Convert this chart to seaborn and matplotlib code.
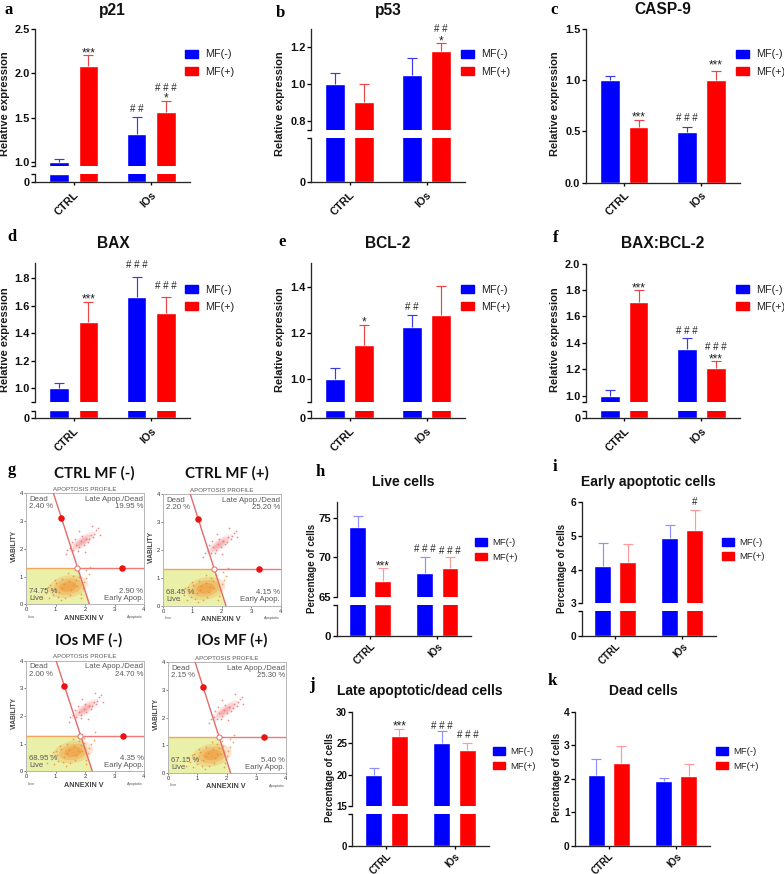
import matplotlib
matplotlib.use("Agg")
import matplotlib.pyplot as plt
from matplotlib.patches import Patch, Ellipse, Polygon
import pandas as pd
import seaborn as sns

# ---------- data ----------
groups = ["CTRL", "IOs"]
hues = ["MF(-)", "MF(+)"]

p21_mean = [1.00, 2.08, 1.32, 1.56]
p21_top = [1.04, 2.20, 1.505, 1.69]
p53_mean = [1.00, 0.90, 1.05, 1.18]
p53_top = [1.057, 1.00, 1.143, 1.22]
casp9_mean = [1.00, 0.54, 0.49, 1.00]
casp9_top = [1.035, 0.615, 0.54, 1.085]
bax_mean = [1.00, 1.48, 1.665, 1.55]
bax_top = [1.04, 1.63, 1.81, 1.665]
bcl2_mean = [1.00, 1.147, 1.227, 1.278]
bcl2_top = [1.05, 1.235, 1.28, 1.405]
ratio_mean = [1.00, 1.71, 1.35, 1.21]
ratio_top = [1.04, 1.80, 1.435, 1.26]
live_mean = [73.9, 67.0, 68.0, 68.7]
live_top = [75.2, 68.7, 70.1, 70.0]
early_mean = [4.10, 4.22, 4.92, 5.18]
early_top = [4.78, 4.77, 5.32, 5.76]
late_mean = [19.9, 26.2, 25.0, 24.0]
late_top = [21.0, 27.3, 27.0, 25.0]
dead_mean = [2.13, 2.48, 1.93, 2.10]
dead_top = [2.60, 2.97, 2.02, 2.43]

flow_titles = ["CTRL MF (-)", "CTRL MF (+)", "IOs MF (-)", "IOs MF (+)"]
flow_dead = ["2.40 %", "2.20 %", "2.00 %", "2.15 %"]
flow_late = ["19.95 %", "25.20 %", "24.70 %", "25.30 %"]
flow_early = ["2.90 %", "4.15 %", "4.35 %", "5.40 %"]
flow_live = ["74.75 %", "68.45 %", "68.95 %", "67.15 %"]
gate_h = [1.30, 1.30, 1.29, 1.285]
gate_top_x = [0.93, 0.93, 1.02, 0.92]
gate_bot_x = [2.15, 2.14, 2.25, 2.13]
gate_cross_x = [1.74, 1.75, 1.83, 1.72]
dot_a_x = [1.20, 1.19, 1.30, 1.19]
dot_b_x = [3.25, 3.25, 3.30, 3.25]
live_cx = [1.43, 1.45, 1.60, 1.50]
live_cy = [0.64, 0.62, 0.70, 0.65]
dead_cx = [1.90, 1.92, 2.00, 1.95]
dead_cy = [2.25, 2.20, 2.25, 2.25]
# speckle offsets from each cloud's centre, hand-placed
speck_live_dx = [-0.75, -0.6, -0.5, -0.42, -0.3, -0.22, -0.1, 0.02, 0.1, 0.18, 0.3, 0.38, 0.5, 0.62, -0.55, -0.35, -0.15, 0.05, 0.25, 0.45, -0.65, -0.2, 0.15, 0.55, 0.7,
                 -0.9, -0.8, -0.45, -0.25, 0.0, 0.35, 0.6, 0.75, -0.7, 0.42]
speck_live_dy = [-0.25, 0.05, -0.32, 0.12, -0.18, 0.28, -0.4, 0.2, -0.12, 0.38, 0.02, 0.33, -0.05, 0.3, -0.12, -0.38, 0.08, -0.3, 0.25, -0.28, -0.42, -0.05, 0.05, 0.15, 0.45,
                 -0.4, -0.1, 0.22, -0.5, 0.48, 0.5, 0.58, 0.72, 0.0, -0.42]
speck_dead_dx = [-0.5, -0.4, -0.3, -0.22, -0.12, -0.05, 0.05, 0.12, 0.2, 0.3, 0.38, 0.48, 0.55, -0.35, 0.0, 0.25, -0.15, 0.42,
                 -0.55, -0.25, 0.1, 0.6, -0.1, 0.33]
speck_dead_dy = [-0.3, -0.22, -0.3, -0.1, -0.2, 0.02, -0.1, 0.12, 0.0, 0.25, 0.18, 0.42, 0.5, -0.02, 0.2, 0.1, -0.32, 0.3,
                 -0.45, 0.12, -0.35, 0.25, 0.38, 0.58]

# ---------- layout helpers ----------
W, H = 784, 874
BLUE, RED = "#0000ff", "#ff0000"
BAR_WIDTH, BAR_GAP = 0.75, 0.33
sns.set_theme(style="ticks")
plt.rcParams["font.family"] = ["Liberation Sans", "DejaVu Sans"]
plt.rcParams["axes.linewidth"] = 0.95
fig = plt.figure(figsize=(W / 100, H / 100), dpi=100, facecolor="white")


def rect(l, r, t, b):
    return [l / W, 1 - b / H, (r - l) / W, (b - t) / H]


def ftext(x, y, s, **kw):
    kw.setdefault("ha", "center")
    kw.setdefault("va", "center")
    fig.text(x / W, 1 - y / H, s, **kw)


def frame(mean):
    return pd.DataFrame({
        "group": [groups[0], groups[0], groups[1], groups[1]],
        "MF": hues * 2,
        "value": mean,
    })


def bars(ax, mean):
    sns.barplot(data=frame(mean), x="group", y="value", hue="MF", hue_order=hues,
                palette=[BLUE, RED], width=BAR_WIDTH, gap=BAR_GAP, saturation=1,
                errorbar=None, legend=False, ax=ax)
    ax.set_xlim(-0.5, 1.5)
    ax.set_xlabel("")
    ax.set_ylabel("")
    sns.despine(ax=ax)


def whiskers(ax, mean, top, pale):
    slot = BAR_WIDTH / 2
    cols = ["#8f8fff", "#ff9a9a"] if pale else ["#3a3ae6", "#ee4444"]
    for i, (m, t) in enumerate(zip(mean, top)):
        x = i // 2 + (i % 2 - 0.5) * slot
        _, caps, _ = ax.errorbar([x], [m], yerr=[[0], [t - m]], color=cols[i % 2], lw=0.85,
                                 capsize=3.3, capthick=0.85, zorder=1.5)
        caps[0].set_visible(False)


def marks(ax, top, notes):
    slot = BAR_WIDTH / 2
    for i, text, dy in notes:
        x = i // 2 + (i % 2 - 0.5) * slot
        star = "*" in text
        ax.annotate(text, xy=(x, top[i]), xytext=(0, (dy - (1.4 if star else 0)) * 0.72),
                    textcoords="offset points", ha="center", va="baseline",
                    fontsize=8.5 if star else 7, color="#222222")


def panel(mean, top, px, ylim, ticks, labels, notes, title, tpos, letter, lpos,
          ylabel, ypos, legpos, brk=None, small=False, tick_fs=7.9):
    l, r, t, b = px
    xt_fs = 7.8 if not small else 7.0
    yl_fs = 8.0 if not small else 7.0
    leg_fs = 7.8 if not small else 6.8
    if brk:
        lo_top, up_bot = brk
        up = fig.add_axes(rect(l, r, t, up_bot))
        lo = fig.add_axes(rect(l, r, lo_top, b))
        bars(up, mean)
        bars(lo, mean)
        up.set_ylim(*ylim)
        lo.set_ylim(0, ylim[0])
        up.spines["bottom"].set_visible(False)
        up.tick_params(axis="x", bottom=False, labelbottom=False)
        lo.set_yticks([0, ylim[0]], ["0", ""])
        main = up
    else:
        up = lo = main = fig.add_axes(rect(l, r, t, b))
        bars(up, mean)
        up.set_ylim(*ylim)
    up.set_yticks(ticks, labels)
    for ax in {up, lo}:
        ax.tick_params(axis="y", length=2.6, width=0.95, pad=1.2, labelsize=tick_fs, color="black")
        for lab in ax.get_yticklabels():
            lab.set_fontweight("bold")
            lab.set_color("#111111")
    lo.tick_params(axis="x", length=2.4, width=0.95, pad=1.5 if small else 3, color="black")
    lo.set_xticks([0, 1], groups, rotation=45, ha="right", rotation_mode="anchor",
                  fontsize=xt_fs, fontweight="bold", color="#111111")
    whiskers(main, mean, top, small)
    marks(main, top, notes)
    ftext(tpos[0], tpos[1], title, fontsize=10 if small else 11.2, fontweight="bold", color="#111111")
    ftext(lpos[0], lpos[1], letter, fontsize=12, fontweight="bold", family="Liberation Serif", color="black")
    ftext(ypos[0], ypos[1], ylabel, rotation=90, fontsize=yl_fs, fontweight="bold", color="#1a1a1a")
    em = leg_fs / 0.72
    pw = 11.7 if small else 13
    gap = 5.7 if small else 7
    row = 14 if small else 17.5
    fig.legend(handles=[Patch(color=BLUE), Patch(color=RED)], labels=hues, loc="center left",
               bbox_to_anchor=(legpos[0] / W, 1 - legpos[1] / H), frameon=False, fontsize=leg_fs,
               borderpad=0, borderaxespad=0, handlelength=pw / em, handleheight=8.2 / em,
               handletextpad=gap / em, labelspacing=(row - em * 0.95) / em, labelcolor="#222222")


RE = "Relative expression"
PC = "Percentage of cells"

panel(p21_mean, p21_top, (35, 190, 28.7, 182), (0.958, 2.5), [0.958, 1.0, 1.5, 2.0, 2.5],
      ["", "1.0", "1.5", "2.0", "2.5"],
      [(1, "***", 0.4), (2, "# #", 4.8), (3, "*", 0.4), (3, "# # #", 10)],
      "p21", (112, 10), "a", (9, 10), RE, (5, 104), (185.3, 63), brk=(174.3, 166))
panel(p53_mean, p53_top, (311, 465, 28.7, 182), (0.751, 1.299), [0.751, 0.8, 1.0, 1.2],
      ["", "0.8", "1.0", "1.2"],
      [(3, "*", 0.6), (3, "# #", 11)],
      "p53", (388, 10), "b", (280, 13), RE, (280, 104), (460.7, 63), brk=(138.3, 130))
panel(casp9_mean, casp9_top, (585.7, 740, 28.7, 182.7), (0, 1.5), [0, 0.5, 1.0, 1.5],
      ["0.0", "0.5", "1.0", "1.5"],
      [(1, "***", 0.4), (2, "# # #", 6.5), (3, "***", 4.4)],
      "CASP-9", (663, 9), "c", (554, 10), RE, (555, 104), (736, 63))
panel(bax_mean, bax_top, (35, 190, 263.3, 418), (0.90, 1.909), [0.90, 1.0, 1.2, 1.4, 1.6, 1.8],
      ["", "1.0", "1.2", "1.4", "1.6", "1.8"],
      [(1, "***", 0.4), (2, "# # #", 8.8), (3, "# # #", 7.8)],
      "BAX", (113, 244), "d", (12, 237), RE, (5, 340), (185.3, 298.3), brk=(410.7, 402))
panel(bcl2_mean, bcl2_top, (311, 465, 263.3, 418), (0.901, 1.504), [0.901, 1.0, 1.2, 1.4],
      ["", "1.0", "1.2", "1.4"],
      [(1, "*", 1.0), (2, "# #", 4.5)],
      "BCL-2", (388, 244), "e", (282, 242), RE, (280, 340), (460.7, 298.3), brk=(410.7, 402))
panel(ratio_mean, ratio_top, (585.7, 740, 263.7, 418), (0.952, 2.0), [0.952, 1.0, 1.2, 1.4, 1.6, 1.8, 2.0],
      ["", "1.0", "1.2", "1.4", "1.6", "1.8", "2.0"],
      [(1, "***", 0.4), (2, "# # #", 4.2), (3, "***", 0.4), (3, "# # #", 11.5)],
      "BAX:BCL-2", (663, 244), "f", (556, 238), RE, (555, 340), (736, 298.3), brk=(410.7, 402))
panel(live_mean, live_top, (336.7, 471, 501.7, 635.7), (65, 77.06), [65, 70, 75], ["65", "70", "75"],
      [(1, "***", 0.2), (2, "# # #", 4.5), (3, "# # #", 3.2)],
      "Live cells", (403, 482), "h", (320, 472), PC, (312, 568), (475, 550), brk=(604.7, 597), small=True, tick_fs=8.2)
panel(early_mean, early_top, (581.7, 715.7, 502, 636), (3, 6), [3, 4, 5, 6], ["3", "4", "5", "6"],
      [(3, "#", 5.2)],
      "Early apoptotic cells", (648, 482), "i", (555, 467), PC, (562, 568), (722, 549.7), brk=(611, 603.3), small=True, tick_fs=7.4)
panel(late_mean, late_top, (352.3, 488.7, 711.7, 845.7), (15, 30), [15, 20, 25, 30], ["15", "20", "25", "30"],
      [(1, "***", 0.2), (2, "# # #", 2.0), (3, "# # #", 5.5)],
      "Late apoptotic/dead cells", (420, 691), "j", (312, 685), PC, (330, 777), (493, 759), brk=(814, 806.3), small=True, tick_fs=7.0)
panel(dead_mean, dead_top, (575, 710, 712, 845.7), (0, 4), [0, 1, 2, 3, 4], ["0", "1", "2", "3", "4"],
      [],
      "Dead cells", (643, 691), "k", (552, 681), PC, (557, 777), (716, 759), small=True, tick_fs=7.4)

# ---------- panel g: apoptosis profiles ----------
flow_px = [(26, 144, 493.3, 604.3), (163, 280.7, 494.3, 605.7), (26, 144, 660.7, 771.3), (168, 285.7, 662, 773)]
title_px = [(94, 473), (227, 473), (89, 640), (232, 640)]
ftext(12, 470, "g", fontsize=12, fontweight="bold", family="Liberation Serif", color="black")
GREY = "#5a5a5a"


def cloud(ax, cx, cy, w, h, ang, color, alphas):
    for scale, alpha in zip((1.0, 0.72, 0.45), alphas):
        ax.add_patch(Ellipse((cx, cy), w * scale, h * scale, angle=ang, color=color, alpha=alpha, lw=0, zorder=2))


for k in range(4):
    l, r, t, b = flow_px[k]
    ax = fig.add_axes(rect(l, r, t, b))
    ax.set_xlim(0, 4)
    ax.set_ylim(0, 4)
    h, tx, bx, cx = gate_h[k], gate_top_x[k], gate_bot_x[k], gate_cross_x[k]
    ax.add_patch(Polygon([(0, 0), (bx, 0), (cx, h), (0, h)], color="#ebf0a8", lw=0, zorder=1))
    cloud(ax, live_cx[k], live_cy[k], 1.35, 0.8, 12, "#f08a2a", (0.22, 0.3, 0.4))
    cloud(ax, dead_cx[k], dead_cy[k], 1.1, 0.36, 38, "#f07070", (0.15, 0.2, 0.3))
    sns.scatterplot(x=[live_cx[k] + d for d in speck_live_dx], y=[live_cy[k] + d for d in speck_live_dy],
                    color="#ee8a30", s=1.5, linewidth=0, alpha=0.8, ax=ax, zorder=3)
    sns.scatterplot(x=[dead_cx[k] + d for d in speck_dead_dx], y=[dead_cy[k] + d for d in speck_dead_dy],
                    color="#ee6a6a", s=1.5, linewidth=0, alpha=0.8, ax=ax, zorder=3)
    sns.lineplot(x=[tx, bx], y=[4, 0], color="#e56a6a", lw=1.0, ax=ax, zorder=4, errorbar=None, sort=False)
    sns.lineplot(x=[0, cx], y=[h, h], color="#f0a860", lw=1.0, ax=ax, zorder=4, errorbar=None)
    sns.lineplot(x=[cx, 4], y=[h, h], color="#f07878", lw=1.0, ax=ax, zorder=4, errorbar=None)
    sns.scatterplot(x=[dot_a_x[k], dot_b_x[k]], y=[3.1, h], color="#ee1111", s=22, linewidth=0, ax=ax, zorder=6)
    sns.scatterplot(x=[cx], y=[h], color="white", edgecolor="#e56a6a", s=14, linewidth=0.7, ax=ax, zorder=6)
    for sp in ax.spines.values():
        sp.set_visible(True)
        sp.set_color("#b5b5b5")
        sp.set_linewidth(0.7)
    ax.set_xticks(range(5), [str(v) for v in range(5)])
    ax.set_yticks(range(5), [str(v) for v in range(5)])
    ax.tick_params(length=1.5, width=0.5, pad=0.8, labelsize=4.2, color="#555555", labelcolor="#333333")
    tkw = dict(transform=ax.transAxes, fontsize=5.6, color=GREY, linespacing=1.05, zorder=7)
    ax.text(0.025, 0.975, "Dead\n" + flow_dead[k], ha="left", va="top", **tkw)
    ax.text(0.995, 0.975, "Late Apop./Dead\n" + flow_late[k], ha="right", va="top", **tkw)
    ax.text(0.995, 0.02, flow_early[k] + "\nEarly Apop.", ha="right", va="bottom", multialignment="right", **tkw)
    ax.text(0.025, 0.02, flow_live[k] + "\nLive", ha="left", va="bottom", **tkw)
    ftext((l + r) / 2, t - 4, "APOPTOSIS PROFILE", fontsize=4.4, color=GREY)
    ftext((l + r) / 2 - 1, b + 14, "ANNEXIN V", fontsize=5.2, fontweight="bold", color="#444444")
    ftext(l - 12, (t + b) / 2 - 3, "VIABILITY", rotation=90, fontsize=4.8, fontweight="bold", color="#444444")
    ftext(l + 5, b + 12.5, "Live", fontsize=2.8, color=GREY)
    ftext(r - 9, b + 12.5, "Apoptotic", fontsize=2.8, color=GREY)
    ftext(title_px[k][0], title_px[k][1], flow_titles[k], fontsize=10.8, fontweight="bold", family="Lato", color="#111111")

fig.savefig("out.png", dpi=100, facecolor="white")
